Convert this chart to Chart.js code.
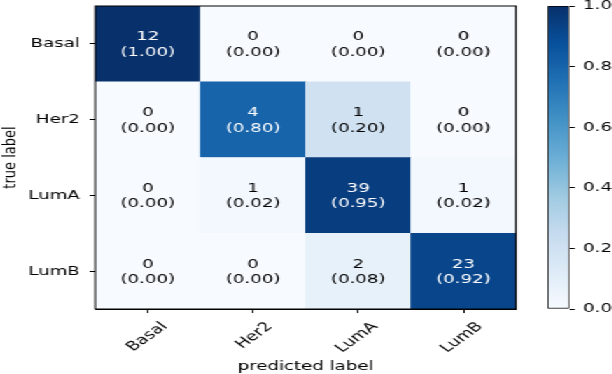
<!DOCTYPE html>
<html>
<head>
<meta charset="utf-8">
<script src="https://cdn.jsdelivr.net/npm/chart.js@4.4.1/dist/chart.umd.min.js"></script>
<style>
  html, body { margin: 0; padding: 0; background: #fff; overflow: hidden; }
  #wrap { position: absolute; left: 0; top: 0; width: 437px; height: 374px;
          transform: scaleX(1.4); transform-origin: 0 0; }
  #main { position: absolute; left: 0; top: 0; }
  #cbar { position: absolute; left: 380px; top: 0; }
</style>
</head>
<body>
<div id="wrap">
  <canvas id="main" width="372" height="374"></canvas>
  <canvas id="cbar" width="57" height="374"></canvas>
</div>
<script>
// ---- data ----
const predictedLabels = ['Basal', 'Her2', 'LumA', 'LumB'];
const trueLabels = ['Basal', 'Her2', 'LumA', 'LumB'];

const countsBasal = [12, 0, 0, 0];
const countsHer2  = [0, 4, 1, 0];
const countsLumA  = [0, 1, 39, 1];
const countsLumB  = [0, 0, 2, 23];

const fracBasal = [1.00, 0.00, 0.00, 0.00];
const fracHer2  = [0.00, 0.80, 0.20, 0.00];
const fracLumA  = [0.00, 0.02, 0.95, 0.02];
const fracLumB  = [0.00, 0.00, 0.08, 0.92];

const colorbarRange = [0, 1];
const colorbarTicks = [0.0, 0.2, 0.4, 0.6, 0.8, 1.0];

// ---- style: matplotlib "Blues" colormap ----
const bluesStops = ['#f7fbff', '#deebf7', '#c6dbef', '#9ecae1', '#6baed6',
                    '#4292c6', '#2171b5', '#08519c', '#08306b'];
function hexToRgb(h) {
  return [parseInt(h.slice(1, 3), 16), parseInt(h.slice(3, 5), 16), parseInt(h.slice(5, 7), 16)];
}
function blues(v) {
  const t = Math.max(0, Math.min(1, v)) * (bluesStops.length - 1);
  const i = Math.min(Math.floor(t), bluesStops.length - 2);
  const f = t - i;
  const a = hexToRgb(bluesStops[i]), b = hexToRgb(bluesStops[i + 1]);
  const c = a.map((x, k) => Math.round(x + (b[k] - x) * f));
  return `rgb(${c[0]},${c[1]},${c[2]})`;
}

Chart.defaults.font.family = '"DejaVu Sans", sans-serif';
Chart.defaults.font.size = 13;
Chart.defaults.color = '#000';

// rows drawn bottom-up in the stack
const rows = [
  { name: 'LumB',  counts: countsLumB,  fracs: fracLumB },
  { name: 'LumA',  counts: countsLumA,  fracs: fracLumA },
  { name: 'Her2',  counts: countsHer2,  fracs: fracHer2 },
  { name: 'Basal', counts: countsBasal, fracs: fracBasal }
];
const rowLabelsBottomUp = rows.map(r => r.name);

const cellText = {
  id: 'cellText',
  afterDatasetsDraw(chart) {
    const ctx = chart.ctx;
    const a = chart.chartArea;
    ctx.save();
    ctx.strokeStyle = '#000';
    ctx.lineWidth = 1;
    ctx.strokeRect(a.left, a.top, a.right - a.left, a.bottom - a.top);
    ctx.font = '13px "DejaVu Sans"';
    ctx.textAlign = 'center';
    ctx.textBaseline = 'alphabetic';
    chart.data.datasets.forEach((ds, di) => {
      chart.getDatasetMeta(di).data.forEach((bar, i) => {
        const cy = (bar.y + bar.base) / 2;
        ctx.fillStyle = ds.fracs[i] > 0.5 ? '#ffffff' : '#000000';
        ctx.fillText(String(ds.counts[i]), bar.x, cy - 3.5);
        ctx.fillText('(' + ds.fracs[i].toFixed(2) + ')', bar.x, cy + 12);
      });
    });
    ctx.restore();
  }
};

new Chart(document.getElementById('main'), {
  type: 'bar',
  data: {
    labels: predictedLabels,
    datasets: rows.map(r => ({
      label: r.name,
      data: r.fracs.map(() => 1),
      counts: r.counts,
      fracs: r.fracs,
      backgroundColor: r.fracs.map(v => blues(v)),
      borderWidth: 0,
      barPercentage: 1,
      categoryPercentage: 1
    }))
  },
  options: {
    responsive: false,
    animation: false,
    events: [],
    layout: { padding: { top: 6, right: 3.4, left: 0, bottom: 0 } },
    plugins: { legend: { display: false }, tooltip: { enabled: false } },
    scales: {
      x: {
        stacked: true,
        grid: { display: true, drawOnChartArea: false, drawTicks: true, tickLength: 4,
                color: '#000', offset: false },
        border: { display: true, color: '#000' },
        ticks: { minRotation: 45, maxRotation: 45, autoSkip: false, labelOffset: 12, padding: 6 },
        title: { display: true, text: 'predicted label', padding: 0 },
        afterFit(scale) { scale.height = 65; scale.paddingLeft = 0; scale.paddingRight = 0; }
      },
      y: {
        stacked: true,
        min: 0, max: 4,
        grid: { display: true, drawOnChartArea: false, drawTicks: true, tickLength: 4, color: '#000' },
        border: { display: true, color: '#000' },
        afterBuildTicks(scale) { scale.ticks = [0.5, 1.5, 2.5, 3.5].map(v => ({ value: v })); },
        ticks: { padding: 7, callback: (v, i) => rowLabelsBottomUp[i] },
        title: { display: true, text: 'true label', padding: 0 },
        afterFit(scale) { scale.width = 68; scale.paddingTop = 0; scale.paddingBottom = 0; }
      }
    }
  },
  plugins: [cellText]
});

// ---- colour bar ----
new Chart(document.getElementById('cbar'), {
  type: 'bar',
  data: {
    labels: [''],
    datasets: [{
      data: [colorbarRange],
      backgroundColor(ctx) {
        const area = ctx.chart.chartArea;
        if (!area) return bluesStops[0];
        const g = ctx.chart.ctx.createLinearGradient(0, area.bottom, 0, area.top);
        bluesStops.forEach((c, i) => g.addColorStop(i / (bluesStops.length - 1), c));
        return g;
      },
      borderColor: '#000',
      borderWidth: 1,
      borderSkipped: false,
      barPercentage: 1,
      categoryPercentage: 1
    }]
  },
  options: {
    responsive: false,
    animation: false,
    events: [],
    layout: { padding: { top: 6, right: 0, left: 11.2, bottom: 65 } },
    plugins: { legend: { display: false }, tooltip: { enabled: false } },
    scales: {
      x: { display: false },
      y: {
        position: 'right',
        min: colorbarRange[0], max: colorbarRange[1],
        grid: { display: true, drawOnChartArea: false, drawTicks: true, tickLength: 4, color: '#000' },
        border: { display: false },
        afterBuildTicks(scale) { scale.ticks = colorbarTicks.map(v => ({ value: v })); },
        ticks: { padding: 6, callback: v => Number(v).toFixed(1) },
        afterFit(scale) { scale.width = 30.4; scale.paddingTop = 0; scale.paddingBottom = 0; }
      }
    }
  }
});
</script>
</body>
</html>
